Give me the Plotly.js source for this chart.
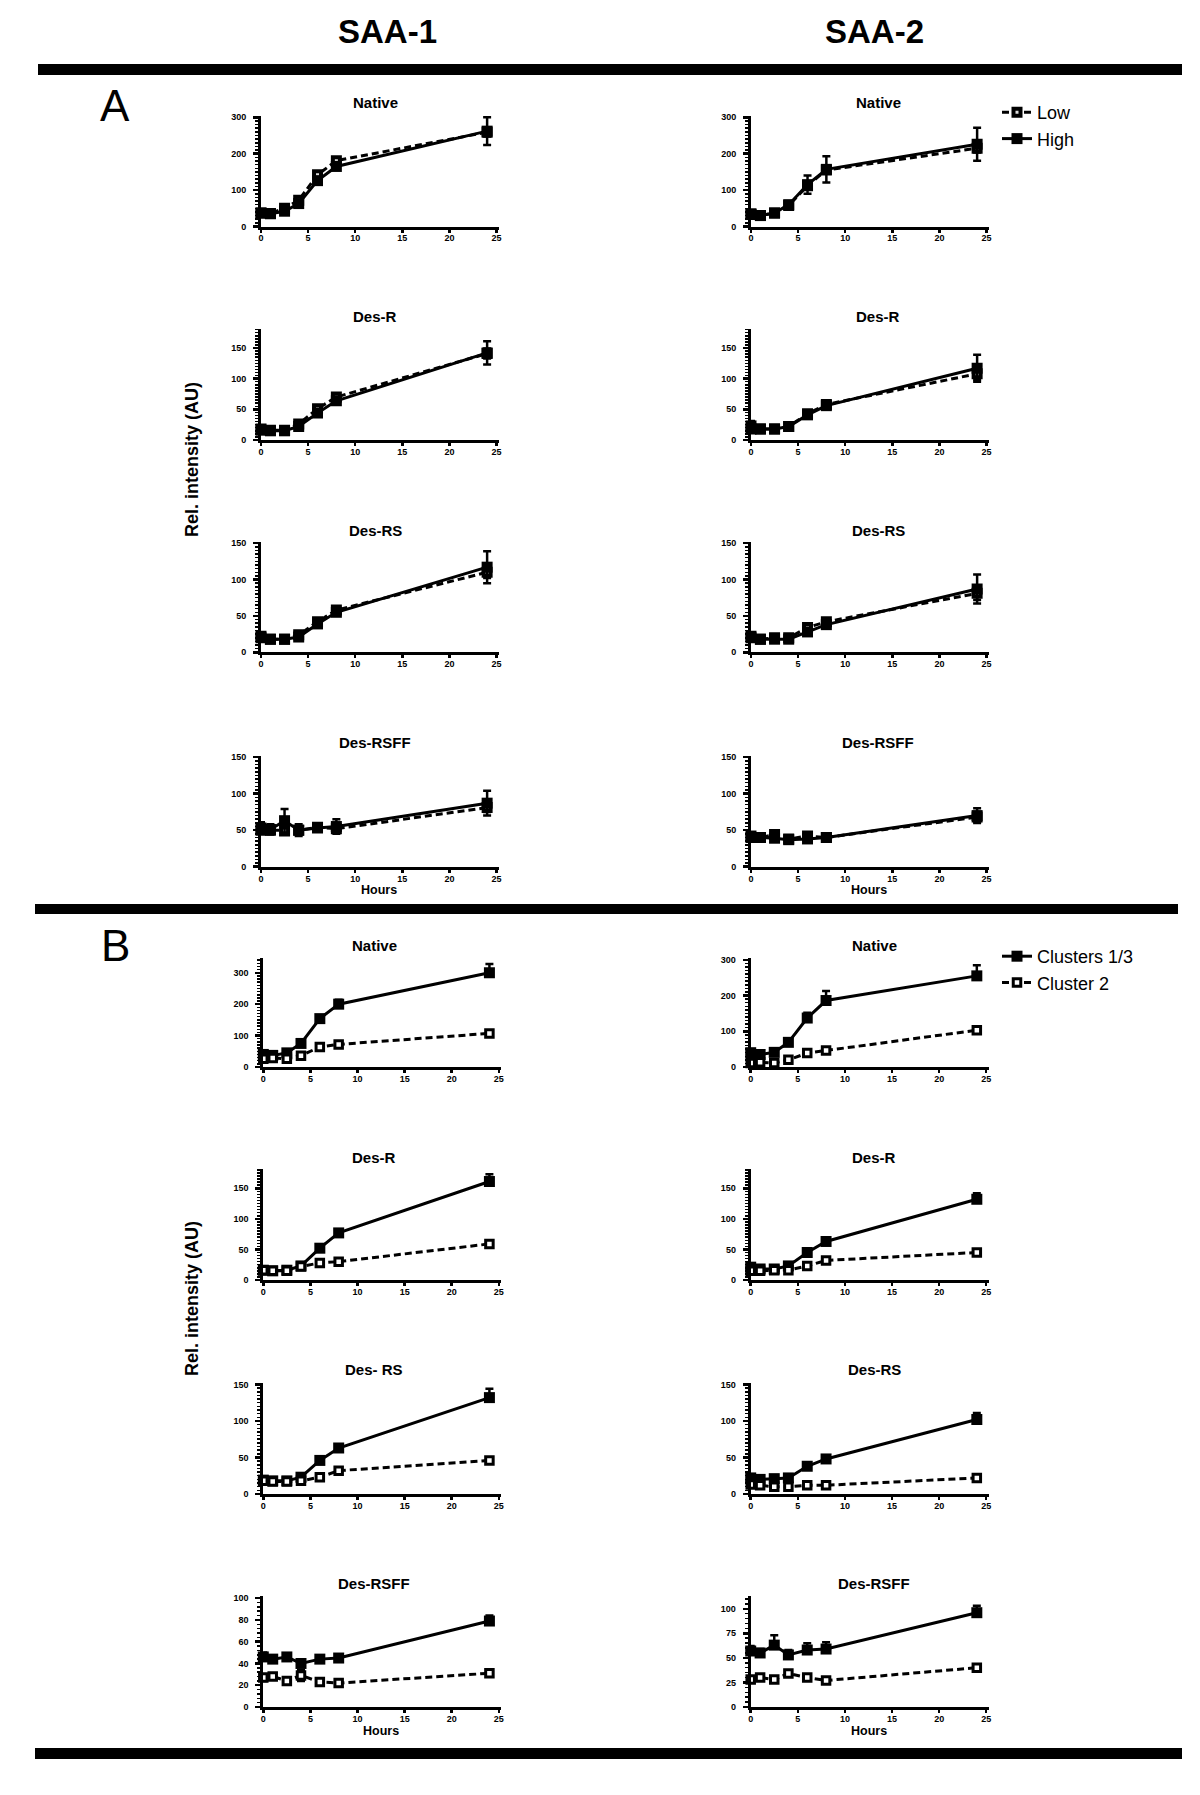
<!DOCTYPE html>
<html><head><meta charset="utf-8">
<script src="https://cdn.plot.ly/plotly-3.0.1.min.js"></script>
<style>body{margin:0;background:#fff}#chart{width:1200px;height:1795px}</style>
</head><body><div id="chart"></div>
<script>
// ---------- data ----------
const hours = [0, 1, 2.5, 4, 6, 8, 24];
const xTicks = [0, 5, 10, 15, 20, 25];

// Panel A, SAA-1 (Low = dashed, High = solid), symmetric SEM
const A1_Native_Low  = [37, 36, 50, 72, 142, 181, 259];
const A1_Native_LowE = [5, 4, 6, 8, 8, 8, 12];
const A1_Native_High = [37, 35, 42, 63, 126, 165, 262];
const A1_Native_HighE= [5, 4, 5, 6, 8, 8, 38];
const A1_DesR_Low    = [18, 16, 16, 26, 51, 70, 141];
const A1_DesR_LowE   = [4, 3, 3, 3, 4, 4, 8];
const A1_DesR_High   = [16, 15, 15, 22, 44, 64, 142];
const A1_DesR_HighE  = [4, 3, 3, 3, 4, 4, 19];
const A1_DesRS_Low   = [22, 18, 18, 24, 42, 58, 110];
const A1_DesRS_LowE  = [3, 2, 2, 3, 3, 3, 8];
const A1_DesRS_High  = [20, 18, 18, 21, 39, 55, 117];
const A1_DesRS_HighE = [3, 2, 2, 3, 3, 3, 22];
const A1_DesRSFF_Low   = [50, 50, 49, 50, 54, 52, 81];
const A1_DesRSFF_LowE  = [5, 4, 5, 5, 4, 5, 6];
const A1_DesRSFF_High  = [53, 51, 63, 50, 53, 55, 87];
const A1_DesRSFF_HighE = [8, 7, 16, 8, 5, 10, 17];

// Panel A, SAA-2
const A2_Native_Low  = [33, 30, 37, 58, 112, 155, 215];
const A2_Native_LowE = [5, 3, 4, 5, 10, 10, 12];
const A2_Native_High = [35, 30, 37, 60, 115, 157, 226];
const A2_Native_HighE= [6, 3, 4, 6, 25, 36, 45];
const A2_DesR_Low    = [18, 18, 18, 22, 43, 58, 108];
const A2_DesR_LowE   = [3, 2, 2, 3, 4, 4, 10];
const A2_DesR_High   = [23, 18, 18, 22, 41, 56, 117];
const A2_DesR_HighE  = [8, 2, 2, 3, 4, 4, 22];
const A2_DesRS_Low   = [22, 18, 20, 20, 34, 42, 81];
const A2_DesRS_LowE  = [3, 2, 3, 2, 3, 3, 9];
const A2_DesRS_High  = [20, 18, 18, 18, 28, 38, 87];
const A2_DesRS_HighE = [3, 2, 2, 2, 3, 3, 20];
const A2_DesRSFF_Low   = [40, 40, 44, 38, 42, 40, 68];
const A2_DesRSFF_LowE  = [4, 3, 4, 3, 4, 3, 6];
const A2_DesRSFF_High  = [42, 40, 39, 37, 38, 40, 70];
const A2_DesRSFF_HighE = [5, 3, 5, 3, 4, 3, 10];

// Panel B, SAA-1 (Clusters 1/3 = solid, upper SEM; Cluster 2 = dashed)
const B1_Native_C13  = [40, 37, 45, 75, 154, 200, 300];
const B1_Native_C13E = [8, 5, 6, 5, 8, 14, 28];
const B1_Native_C2   = [26, 29, 26, 36, 64, 72, 107];
const B1_Native_C2E  = [4, 3, 3, 3, 4, 4, 8];
const B1_DesR_C13    = [16, 15, 16, 23, 52, 77, 161];
const B1_DesR_C13E   = [3, 3, 3, 3, 4, 4, 12];
const B1_DesR_C2     = [16, 15, 15, 22, 28, 30, 59];
const B1_DesR_C2E    = [2, 2, 2, 2, 2, 2, 4];
const B1_DesRS_C13   = [19, 18, 18, 23, 46, 63, 132];
const B1_DesRS_C13E  = [3, 2, 2, 3, 3, 4, 12];
const B1_DesRS_C2    = [18, 17, 17, 18, 23, 32, 46];
const B1_DesRS_C2E   = [2, 2, 2, 2, 2, 3, 3];
const B1_DesRSFF_C13  = [46, 44, 46, 40, 44, 45, 79];
const B1_DesRSFF_C13E = [4, 3, 3, 3, 3, 2, 5];
const B1_DesRSFF_C2   = [27, 28, 24, 29, 23, 22, 31];
const B1_DesRSFF_C2E  = [3, 2, 3, 5, 2, 2, 2];

// Panel B, SAA-2
const B2_Native_C13  = [40, 35, 41, 69, 137, 186, 255];
const B2_Native_C13E = [6, 4, 4, 5, 15, 27, 30];
const B2_Native_C2   = [11, 13, 11, 20, 39, 46, 103];
const B2_Native_C2E  = [2, 2, 2, 2, 3, 3, 5];
const B2_DesR_C13    = [21, 18, 18, 23, 45, 63, 132];
const B2_DesR_C13E   = [5, 2, 2, 3, 4, 4, 10];
const B2_DesR_C2     = [15, 15, 16, 16, 23, 32, 45];
const B2_DesR_C2E    = [2, 2, 2, 2, 2, 3, 3];
const B2_DesRS_C13   = [22, 20, 21, 22, 38, 48, 102];
const B2_DesRS_C13E  = [4, 2, 2, 2, 3, 3, 9];
const B2_DesRS_C2    = [13, 12, 10, 10, 12, 12, 22];
const B2_DesRS_C2E   = [2, 2, 2, 2, 2, 2, 2];
const B2_DesRSFF_C13  = [57, 55, 63, 53, 58, 59, 96];
const B2_DesRSFF_C13E = [5, 4, 10, 5, 7, 7, 7];
const B2_DesRSFF_C2   = [28, 30, 28, 34, 30, 27, 40];
const B2_DesRSFF_C2E  = [2, 2, 2, 3, 2, 2, 2];

// ---------- layout helpers ----------
const W = 1200, H = 1795;
const fx = px => px / W;
const fy = px => 1 - px / H;
const FONT = 'Arial, "Liberation Sans", sans-serif';

const colX = {A: [[261, 498.9], [751, 988.9]], B: [[263.3, 501.2], [750.7, 988.6]]};
const rowY = {A: [[115.5, 226.5], [329, 440], [541.7, 652.3], [755.7, 866.7]],
              B: [[958, 1067], [1169.3, 1280], [1383, 1494], [1596, 1707]]};
const titleY = {A: [103, 316.7, 530, 743], B: [945, 1157, 1369.5, 1583.5]};
const titleX = {A: [375, 878], B: [374, 874]};

const panels = [
  {p:'A', c:0, r:0, t:'Native',   s1:A1_Native_Low,  e1:A1_Native_LowE,  s2:A1_Native_High,  e2:A1_Native_HighE,  yr:305, dt:100, mn:10},
  {p:'A', c:0, r:1, t:'Des-R',    s1:A1_DesR_Low,    e1:A1_DesR_LowE,    s2:A1_DesR_High,    e2:A1_DesR_HighE,    yr:181, dt:50, mn:5},
  {p:'A', c:0, r:2, t:'Des-RS',   s1:A1_DesRS_Low,   e1:A1_DesRS_LowE,   s2:A1_DesRS_High,   e2:A1_DesRS_HighE,   yr:152, dt:50, mn:5},
  {p:'A', c:0, r:3, t:'Des-RSFF', s1:A1_DesRSFF_Low, e1:A1_DesRSFF_LowE, s2:A1_DesRSFF_High, e2:A1_DesRSFF_HighE, yr:152, dt:50, mn:5},
  {p:'A', c:1, r:0, t:'Native',   s1:A2_Native_Low,  e1:A2_Native_LowE,  s2:A2_Native_High,  e2:A2_Native_HighE,  yr:305, dt:100, mn:10},
  {p:'A', c:1, r:1, t:'Des-R',    s1:A2_DesR_Low,    e1:A2_DesR_LowE,    s2:A2_DesR_High,    e2:A2_DesR_HighE,    yr:181, dt:50, mn:5},
  {p:'A', c:1, r:2, t:'Des-RS',   s1:A2_DesRS_Low,   e1:A2_DesRS_LowE,   s2:A2_DesRS_High,   e2:A2_DesRS_HighE,   yr:152, dt:50, mn:5},
  {p:'A', c:1, r:3, t:'Des-RSFF', s1:A2_DesRSFF_Low, e1:A2_DesRSFF_LowE, s2:A2_DesRSFF_High, e2:A2_DesRSFF_HighE, yr:152, dt:50, mn:5},
  {p:'B', c:0, r:0, t:'Native',   s1:B1_Native_C13,  e1:B1_Native_C13E,  s2:B1_Native_C2,  e2:B1_Native_C2E,  yr:347, dt:100, mn:10},
  {p:'B', c:0, r:1, t:'Des-R',    s1:B1_DesR_C13,    e1:B1_DesR_C13E,    s2:B1_DesR_C2,    e2:B1_DesR_C2E,    yr:181, dt:50, mn:5},
  {p:'B', c:0, r:2, t:'Des- RS',  s1:B1_DesRS_C13,   e1:B1_DesRS_C13E,   s2:B1_DesRS_C2,   e2:B1_DesRS_C2E,   yr:152, dt:50, mn:5},
  {p:'B', c:0, r:3, t:'Des-RSFF', s1:B1_DesRSFF_C13, e1:B1_DesRSFF_C13E, s2:B1_DesRSFF_C2, e2:B1_DesRSFF_C2E, yr:102, dt:20, mn:4},
  {p:'B', c:1, r:0, t:'Native',   s1:B2_Native_C13,  e1:B2_Native_C13E,  s2:B2_Native_C2,  e2:B2_Native_C2E,  yr:305, dt:100, mn:10},
  {p:'B', c:1, r:1, t:'Des-R',    s1:B2_DesR_C13,    e1:B2_DesR_C13E,    s2:B2_DesR_C2,    e2:B2_DesR_C2E,    yr:181, dt:50, mn:5},
  {p:'B', c:1, r:2, t:'Des-RS',   s1:B2_DesRS_C13,   e1:B2_DesRS_C13E,   s2:B2_DesRS_C2,   e2:B2_DesRS_C2E,   yr:152, dt:50, mn:5},
  {p:'B', c:1, r:3, t:'Des-RSFF', s1:B2_DesRSFF_C13, e1:B2_DesRSFF_C13E, s2:B2_DesRSFF_C2, e2:B2_DesRSFF_C2E, yr:113, dt:25, mn:5}
];

const traces = [];
const annotations = [];
const layout = {
  width: W, height: H,
  margin: {l: 0, r: 0, t: 0, b: 0},
  paper_bgcolor: '#fff', plot_bgcolor: 'rgba(0,0,0,0)',
  font: {family: FONT, color: '#000'},
  showlegend: true,
  legend: {x: fx(997), y: fy(94), xanchor: 'left', yanchor: 'top',
           font: {family: FONT, size: 18, color: '#000'}, bgcolor: 'rgba(0,0,0,0)',
           itemwidth: 30, tracegroupgap: 0},
  legend2: {x: fx(997), y: fy(938), xanchor: 'left', yanchor: 'top',
           font: {family: FONT, size: 18, color: '#000'}, bgcolor: 'rgba(0,0,0,0)',
           itemwidth: 30, tracegroupgap: 0},
  shapes: [
    {type: 'rect', xref: 'paper', yref: 'paper', x0: fx(38), x1: fx(1182), y0: fy(75), y1: fy(64), fillcolor: '#000', line: {width: 0}},
    {type: 'rect', xref: 'paper', yref: 'paper', x0: fx(35), x1: fx(1178), y0: fy(914), y1: fy(904), fillcolor: '#000', line: {width: 0}},
    {type: 'rect', xref: 'paper', yref: 'paper', x0: fx(35), x1: fx(1182), y0: fy(1759), y1: fy(1748), fillcolor: '#000', line: {width: 0}}
  ],
  annotations: annotations
};

const tickFont = {family: FONT, size: 9, color: '#000', weight: 'bold'};
const zeros = hours.map(() => 0);

panels.forEach((q, i) => {
  const n = i + 1;
  const sfx = n === 1 ? '' : String(n);
  const xa = 'x' + sfx, ya = 'y' + sfx;
  const cx = colX[q.p][q.c], ry = rowY[q.p][q.r];
  layout['xaxis' + sfx] = {
    domain: [fx(cx[0]), fx(cx[1])], anchor: ya, range: [0, 25.25],
    tickmode: 'array', tickvals: xTicks, ticks: 'outside', ticklen: 3, tickwidth: 2.5, tickcolor: '#000',
    showline: true, linewidth: 3, linecolor: '#000', showgrid: false, zeroline: false,
    tickfont: tickFont, ticklabelstandoff: -2, fixedrange: true
  };
  layout['yaxis' + sfx] = {
    domain: [fy(ry[1]), fy(ry[0])], anchor: xa, range: [0, q.yr],
    tickmode: 'linear', tick0: 0, dtick: q.dt, ticks: 'outside', ticklen: 5, tickwidth: 2.5, tickcolor: '#000',
    minor: {tickmode: 'linear', tick0: 0, dtick: q.mn, ticks: 'outside', ticklen: 3, tickwidth: 1.5, tickcolor: '#000', showgrid: false},
    showline: true, linewidth: 3, linecolor: '#000', showgrid: false, zeroline: false,
    tickfont: tickFont, ticklabelstandoff: 5, fixedrange: true
  };

  const solidStyle = {
    mode: 'lines+markers', cliponaxis: false, xaxis: xa, yaxis: ya,
    line: {color: '#000', width: 3},
    marker: {symbol: 'square', size: 11, color: '#000', line: {width: 0}}
  };
  const lowStyle = {
    mode: 'lines+markers', cliponaxis: false, xaxis: xa, yaxis: ya,
    line: {color: '#000', width: 3, dash: '7px,4px'},
    marker: {symbol: 'square', size: 7, color: '#ddd', line: {color: '#000', width: 4}}
  };
  const c2Style = {
    mode: 'lines+markers', cliponaxis: false, xaxis: xa, yaxis: ya,
    line: {color: '#000', width: 3, dash: '7px,4px'},
    marker: {symbol: 'square', size: 7.5, color: '#fff', line: {color: '#000', width: 3}}
  };
  const eb = (arr, up) => up
    ? {type: 'data', symmetric: false, array: arr, arrayminus: zeros, color: '#000', thickness: 2.5, width: 4}
    : {type: 'data', array: arr, color: '#000', thickness: 2.5, width: 4};

  if (q.p === 'A') {
    traces.push(Object.assign({}, lowStyle, {x: hours, y: q.s1, error_y: eb(q.e1, false), name: 'Low', legend: 'legend', showlegend: n === 1}));
    traces.push(Object.assign({}, solidStyle, {x: hours, y: q.s2, error_y: eb(q.e2, false), name: 'High', legend: 'legend', showlegend: n === 1}));
  } else {
    traces.push(Object.assign({}, solidStyle, {x: hours, y: q.s1, error_y: eb(q.e1, true), name: 'Clusters 1/3', legend: 'legend2', showlegend: n === 9}));
    traces.push(Object.assign({}, c2Style, {x: hours, y: q.s2, error_y: eb(q.e2, false), name: 'Cluster 2', legend: 'legend2', showlegend: n === 9}));
  }

  annotations.push({xref: 'paper', yref: 'paper', x: fx(titleX[q.p][q.c]), y: fy(titleY[q.p][q.r]),
    xanchor: 'center', yanchor: 'middle', showarrow: false, text: q.t,
    font: {family: FONT, size: 15, color: '#000', weight: 'bold'}});
  if (q.r === 3) {
    annotations.push({xref: 'paper', yref: 'paper', x: fx((cx[0] + cx[1]) / 2 - 1), y: fy(q.p === 'A' ? 890 : 1731),
      xanchor: 'center', yanchor: 'middle', showarrow: false, text: 'Hours',
      font: {family: FONT, size: 12.5, color: '#000', weight: 'bold'}});
  }
});

// column headers, panel letters, y titles
const bigText = [
  {text: 'SAA-1', x: 387, y: 32, size: 33, weight: 'bold', angle: 0},
  {text: 'SAA-2', x: 874, y: 32, size: 33, weight: 'bold', angle: 0},
  {text: 'A', x: 115, y: 105, size: 44, weight: 'normal', angle: 0},
  {text: 'B', x: 115, y: 946, size: 44, weight: 'normal', angle: 0},
  {text: 'Rel. intensity (AU)', x: 192, y: 460, size: 18, weight: 'bold', angle: -90},
  {text: 'Rel. intensity (AU)', x: 192, y: 1299, size: 18, weight: 'bold', angle: -90}
];
bigText.forEach(b => annotations.push({xref: 'paper', yref: 'paper', x: fx(b.x), y: fy(b.y),
  xanchor: 'center', yanchor: 'middle', showarrow: false, text: b.text, textangle: b.angle,
  font: {family: FONT, size: b.size, color: '#000', weight: b.weight}}));

Plotly.newPlot('chart', traces, layout, {staticPlot: true, displayModeBar: false});
</script>
</body></html>
